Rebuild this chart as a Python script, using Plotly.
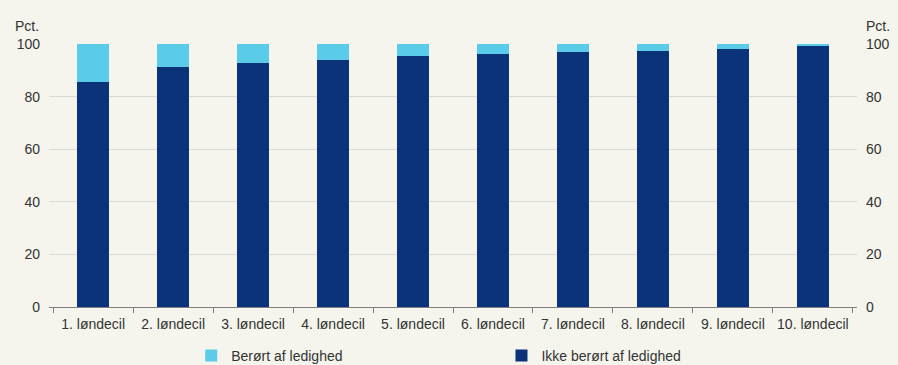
import plotly.graph_objects as go

# Data
categories = [f"{i}. løndecil" for i in range(1, 11)]
ikke_beroert = [85.6, 91.1, 92.6, 94.0, 95.5, 96.3, 97.0, 97.5, 98.1, 99.2]
beroert = [round(100 - v, 1) for v in ikke_beroert]

DARK = "#0a337a"
LIGHT = "#5bcbea"
BG = "#f5f5ee"
FONT = dict(family="Liberation Sans, Arial, sans-serif", size=14, color="#333333")

fig = go.Figure()
fig.add_trace(go.Bar(x=categories, y=ikke_beroert, name="Ikke berørt af ledighed",
                     marker=dict(color=DARK, line=dict(width=0)), legend="legend2"))
fig.add_trace(go.Bar(x=categories, y=beroert, name="Berørt af ledighed",
                     marker=dict(color=LIGHT, line=dict(width=0)), legend="legend"))
# invisible trace to drive the right-hand axis
fig.add_trace(go.Scatter(x=categories, y=ikke_beroert, yaxis="y2", mode="markers",
                         marker=dict(opacity=0), showlegend=False, hoverinfo="skip"))

# legends sit in the bottom margin, placed against the whole figure
leg = dict(orientation="h", xanchor="left", yref="container", y=0.025, yanchor="middle",
           font=dict(size=14), bgcolor="rgba(0,0,0,0)", itemwidth=30)

fig.update_layout(
    width=898, height=365,
    barmode="stack", bargap=0.6,
    paper_bgcolor=BG, plot_bgcolor=BG,
    font=FONT,
    margin=dict(l=49, r=41, t=44, b=58),
    xaxis=dict(showline=True, linecolor="#808080", linewidth=1, tickangle=0,
               ticks="outside", tickson="boundaries", ticklen=5, tickcolor="#808080",
               ticklabelstandoff=4, showgrid=False, tickfont=dict(size=14),
               automargin=False),
    yaxis=dict(range=[0, 100], dtick=20, showgrid=True, gridcolor="#d9d9d6",
               zeroline=False, showline=False, ticks="", tickfont=dict(size=14),
               ticklabelstandoff=8, automargin=False),
    yaxis2=dict(range=[0, 100], dtick=20, overlaying="y", side="right",
                showgrid=False, zeroline=False, showline=False, tickfont=dict(size=14),
                ticklabelstandoff=8, automargin=False),
    legend=dict(leg, x=0.176),
    legend2=dict(leg, x=0.56),
    annotations=[
        dict(text="Pct.", xref="paper", yref="paper", x=0, y=1.0, yshift=8, xshift=-8,
             xanchor="right", yanchor="bottom", showarrow=False, font=dict(size=14)),
        dict(text="Pct.", xref="paper", yref="paper", x=1, y=1.0, yshift=8, xshift=7,
             xanchor="left", yanchor="bottom", showarrow=False, font=dict(size=14)),
    ],
)

fig.write_html("out.html", config={"displayModeBar": False},
               post_script="document.body.style.margin='0';")
